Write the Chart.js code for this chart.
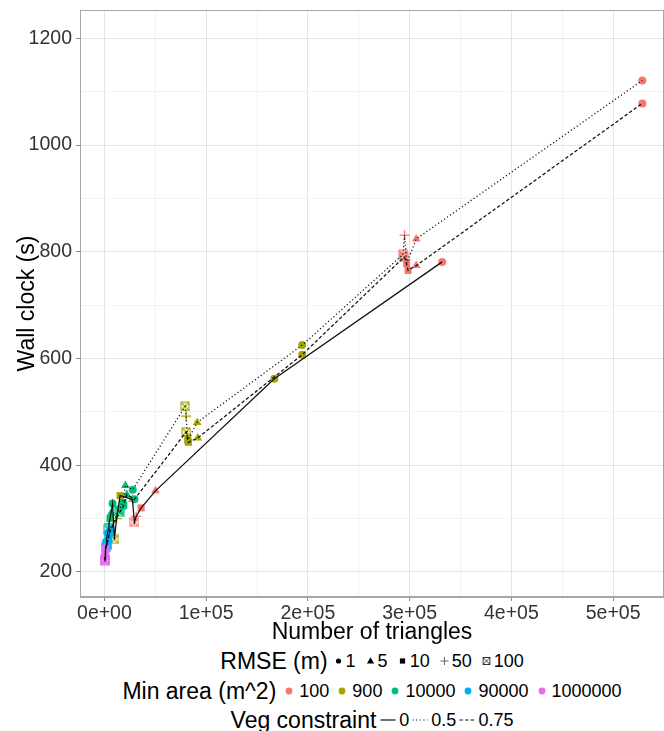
<!DOCTYPE html>
<html>
<head>
<meta charset="utf-8">
<script src="https://cdn.jsdelivr.net/npm/chart.js@4"></script>
<style>
  html, body { margin: 0; padding: 0; background: #fff; }
  body { width: 664px; height: 731px; overflow: hidden; font-family: "Liberation Sans", Arial, sans-serif; color: #000; }
  #wrap { position: relative; width: 664px; height: 646px; }
  #chart { display: block; }
  .row { position: absolute; left: 80px; width: 584px; height: 30px; display: flex; justify-content: center; align-items: center; white-space: nowrap; }
  .row .title { font-size: 23px; margin-right: 4px; }
  .row .key { display: inline-block; }
  .row .lab { font-size: 18px; }
</style>
</head>
<body>
<div id="wrap"><canvas id="chart" width="664" height="646"></canvas></div>
<div class="row" id="legRmse" style="top:646px"></div>
<div class="row" id="legArea" style="top:676px"></div>
<div class="row" id="legVeg" style="top:705px"></div>
<script>
// factor levels
const rmseLevels = [1, 5, 10, 50, 100];
const areaLevels = [100, 900, 10000, 90000, 1000000];
const vegLevels = [0, 0.5, 0.75];

// one value per run: min area 100, 900, 10000, 90000, 1000000,
// and inside each block RMSE 1, 5, 10, 50, 100
const trianglesVeg0 = [
  332000, 50200, 36100, 31200, 29500,
  167000, 27500, 15400, 12000, 9800,
  8000, 6500, 5500, 4500, 4000,
  3000, 2500, 2000, 1600, 1400,
  1000, 800, 600, 500, 400
];
const wallclockVeg0 = [
  781, 352, 320, 304, 293,
  562, 336, 343, 300, 261,
  328, 310, 300, 290, 280,
  272, 262, 256, 250, 246,
  240, 234, 228, 224, 220
];
const trianglesVeg05 = [
  528700, 306500, 297000, 295000, 293500,
  194400, 91100, 81900, 80300, 79300,
  27800, 20600, 18000, 16000, 14000,
  6000, 5000, 4000, 3200, 2800,
  1500, 1100, 900, 700, 600
];
const wallclockVeg05 = [
  1121, 824, 778, 831, 795,
  625, 480, 447, 492, 510,
  354, 362, 330, 322, 316,
  280, 272, 265, 258, 252,
  248, 240, 234, 228, 224
];
const trianglesVeg075 = [
  528700, 306500, 298500, 296000, 294500,
  194400, 91700, 82500, 81000, 80300,
  29500, 22000, 19000, 17000, 15000,
  5500, 4500, 3800, 3000, 2600,
  1300, 1000, 800, 650, 550
];
const wallclockVeg075 = [
  1078, 774, 765, 785, 790,
  607, 451, 443, 455, 462,
  336, 345, 325, 318, 312,
  276, 268, 262, 256, 250,
  244, 237, 231, 226, 222
];

const xTicks = [0, 100000, 200000, 300000, 400000, 500000];
const yTicks = [200, 400, 600, 800, 1000, 1200];

// styling
const areaColors = ['#F8766D', '#A3A500', '#00BF7D', '#00B0F6', '#E76BF3'];
const vegDash = [[], [1.2, 2.4], [3.4, 2.2]];
const FONT = "'Liberation Sans', Arial, sans-serif";
const X_MIN = -24000, X_MAX = 550000, Y_MIN = 153, Y_MAX = 1253;

function sci(v) {
  if (v === 0) return '0e+00';
  const e = Math.floor(Math.log10(v));
  return (v / Math.pow(10, e)) + 'e+' + String(e).padStart(2, '0');
}

// major ticks plus ggplot-style minor lines half way between them
function withMinor(major, lo, hi) {
  const step = major[1] - major[0];
  const out = [];
  for (let v = major[0] - step / 2; v <= major[major.length - 1] + step / 2; v += step / 2) {
    if (v > lo && v < hi) out.push(v);
  }
  return out;
}
const isMajor = (set, v) => set.some(t => Math.abs(t - v) < 1e-6);

function xboxImage(color) {
  const c = document.createElement('canvas');
  c.width = 10; c.height = 10;
  const g = c.getContext('2d');
  g.strokeStyle = color; g.lineWidth = 1.1;
  g.strokeRect(1, 1, 8, 8);
  g.beginPath();
  g.moveTo(1, 1); g.lineTo(9, 9);
  g.moveTo(9, 1); g.lineTo(1, 9);
  g.stroke();
  return c;
}
const xboxImgs = areaColors.map(xboxImage);

const shapeNames = ['circle', 'triangle', 'rect', 'cross', 'xbox'];
const shapeRadius = [4, 5, 5, 5, 5];

const runs = [
  [trianglesVeg0, wallclockVeg0],
  [trianglesVeg05, wallclockVeg05],
  [trianglesVeg075, wallclockVeg075]
];

// points: all runs, colour by min area, shape by RMSE
const pts = [], pStyle = [], pColor = [], pRadius = [], pBorder = [];
runs.forEach(([xs, ys]) => {
  xs.forEach((x, i) => {
    const a = Math.floor(i / rmseLevels.length);
    const r = i % rmseLevels.length;
    pts.push({x: x, y: ys[i]});
    pStyle.push(shapeNames[r] === 'xbox' ? xboxImgs[a] : shapeNames[r]);
    pColor.push(areaColors[a]);
    pRadius.push(shapeRadius[r]);
    pBorder.push(shapeNames[r] === 'cross' ? 1.3 : 0);
  });
});

const datasets = [{
  label: 'points',
  data: pts,
  pointStyle: pStyle,
  pointBackgroundColor: pColor,
  pointBorderColor: pColor,
  pointBorderWidth: pBorder,
  pointRadius: pRadius,
  showLine: false,
  order: 2
}];

// one line per veg constraint, joined in order of triangles
runs.forEach(([xs, ys], v) => {
  const line = xs.map((x, i) => ({x: x, y: ys[i]})).sort((p, q) => p.x - q.x);
  datasets.push({
    label: 'veg ' + vegLevels[v],
    data: line,
    showLine: true,
    borderColor: '#111',
    borderWidth: 1.25,
    borderDash: vegDash[v],
    pointRadius: 0,
    order: 1
  });
});

const panelBorder = {
  id: 'panelBorder',
  afterDraw(chart) {
    const {ctx, chartArea: a} = chart;
    ctx.save();
    ctx.strokeStyle = '#a6a6a6';
    ctx.lineWidth = 1;
    ctx.strokeRect(a.left + 0.5, a.top + 0.5, a.right - a.left - 1, a.bottom - a.top - 1);
    ctx.restore();
  }
};

const gridColor = (set) => (c) => (c.tick && isMajor(set, c.tick.value)) ? '#e4e4e4' : '#f2f2f2';
const tickColor = (set) => (c) => (c.tick && isMajor(set, c.tick.value)) ? '#8c8c8c' : 'rgba(0,0,0,0)';

new Chart(document.getElementById('chart'), {
  type: 'scatter',
  data: { datasets: datasets },
  options: {
    responsive: false,
    animation: false,
    devicePixelRatio: 1,
    layout: { autoPadding: false, padding: { top: 10, right: 0, left: 0, bottom: 0 } },
    plugins: { legend: { display: false }, tooltip: { enabled: false } },
    scales: {
      x: {
        type: 'linear',
        min: X_MIN,
        max: X_MAX,
        afterBuildTicks: (s) => { s.ticks = withMinor(xTicks, X_MIN, X_MAX).map(v => ({value: v})); },
        afterFit: (s) => { s.height = 49; s.paddingLeft = 0; s.paddingRight = 0; },
        grid: { color: gridColor(xTicks), tickColor: tickColor(xTicks), tickLength: 4, lineWidth: 1 },
        border: { color: '#a6a6a6', width: 1 },
        ticks: {
          autoSkip: false, maxRotation: 0, minRotation: 0,
          padding: 1, color: '#333', font: { family: FONT, size: 19.5 },
          callback: (v) => isMajor(xTicks, v) ? sci(v) : ''
        },
        title: { display: true, text: 'Number of triangles', color: '#000',
          font: { family: FONT, size: 23 }, padding: { top: 0, bottom: 0 } }
      },
      y: {
        type: 'linear',
        min: Y_MIN,
        max: Y_MAX,
        afterBuildTicks: (s) => { s.ticks = withMinor(yTicks, Y_MIN, Y_MAX).map(v => ({value: v})); },
        afterFit: (s) => { s.width = 80; s.paddingTop = 0; s.paddingBottom = 0; },
        grid: { color: gridColor(yTicks), tickColor: tickColor(yTicks), tickLength: 4, lineWidth: 1 },
        border: { color: '#a6a6a6', width: 1 },
        ticks: {
          autoSkip: false,
          padding: 4, color: '#333', font: { family: FONT, size: 19.5 },
          callback: (v) => isMajor(yTicks, v) ? String(v) : ''
        },
        title: { display: true, text: 'Wall clock (s)', color: '#000',
          font: { family: FONT, size: 23 }, padding: { top: 14, bottom: 0 } }
      }
    }
  },
  plugins: [panelBorder]
});

// ---- legend (html) ----
function svg(w, h, body) {
  return '<svg class="key" width="' + w + '" height="' + h + '" viewBox="0 0 ' + w + ' ' + h + '">' + body + '</svg>';
}
const rmseKeys = [
  svg(13, 16, '<circle cx="6.5" cy="8" r="2.6" fill="#000"/>'),
  svg(13, 16, '<polygon points="6.5,4.2 10.1,10.6 2.9,10.6" fill="#000"/>'),
  svg(13, 16, '<rect x="3.9" y="5.4" width="5.2" height="5.2" fill="#000"/>'),
  svg(13, 16, '<path d="M2.5 8H10.5M6.5 4V12" stroke="#555" stroke-width="0.9"/>'),
  svg(13, 16, '<rect x="3.1" y="4.6" width="6.8" height="6.8" fill="none" stroke="#000" stroke-width="0.8"/><path d="M3.1 4.6L9.9 11.4M9.9 4.6L3.1 11.4" stroke="#000" stroke-width="0.7"/>')
];

let html = '<span class="title">RMSE (m)</span>';
rmseLevels.forEach((r, i) => {
  html += rmseKeys[i] + '<span class="lab" style="margin:0 ' + (i < rmseLevels.length - 1 ? 8 : 0) + 'px 0 1px">' + r + '</span>';
});
document.getElementById('legRmse').innerHTML = html;

html = '<span class="title" style="margin-right:6px">Min area (m^2)</span>';
areaLevels.forEach((a, i) => {
  html += svg(14, 16, '<circle cx="7" cy="8" r="3.4" fill="' + areaColors[i] + '"/>') +
    '<span class="lab" style="margin:0 ' + (i < areaLevels.length - 1 ? 6 : 0) + 'px 0 3px">' + a + '</span>';
});
document.getElementById('legArea').innerHTML = html;

html = '<span class="title" style="margin-right:4px">Veg constraint</span>';
vegLevels.forEach((v, i) => {
  const dash = vegDash[i].length ? ' stroke-dasharray="' + vegDash[i].join(' ') + '"' : '';
  html += svg(16, 16, '<line x1="0.5" y1="8" x2="15.5" y2="8" stroke="#111" stroke-width="1.2"' + dash + '/>') +
    '<span class="lab" style="margin:0 ' + (i < vegLevels.length - 1 ? 3 : 0) + 'px 0 3px">' + v + '</span>';
});
document.getElementById('legVeg').innerHTML = html;
</script>
</body>
</html>
